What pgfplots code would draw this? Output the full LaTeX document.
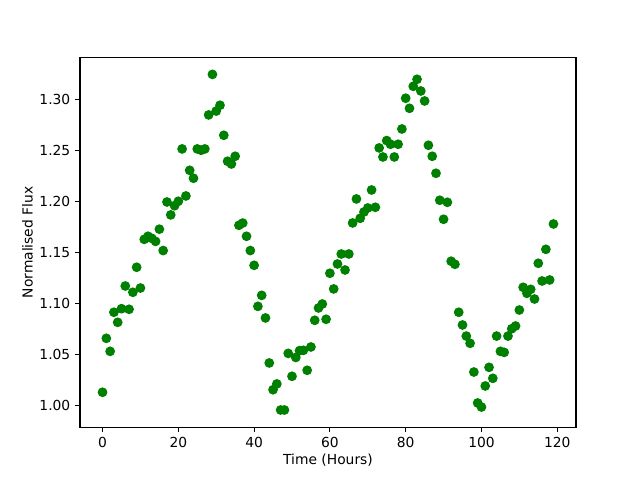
\documentclass[border=0pt]{standalone}
\usepackage{fontspec}
\setmainfont{DejaVu Sans}
\usepackage{pgfplots}
\pgfplotsset{compat=1.18}
\definecolor{mgreen}{HTML}{008000}
\begin{document}
\begin{tikzpicture}
\useasboundingbox (-0.8in,-0.528in) rectangle (5.6in,4.272in);
\begin{axis}[
  at={(0,0)}, anchor=south west,
  scale only axis,
  width=4.96in, height=3.696in,
  xmin=-5.95, xmax=124.95,
  ymin=0.9785, ymax=1.3415,
  xtick={0,20,40,60,80,100,120},
  ytick={1.00,1.05,1.10,1.15,1.20,1.25,1.30},
  yticklabel style={/pgf/number format/.cd, fixed, fixed zerofill, precision=2},
  /pgf/number format/assume math mode=true,
  tick align=outside,
  tick pos=left,
  major tick length=3.5pt,
  every tick/.style={black, line width=0.8pt},
  axis line style={line width=0.8pt},
  tick label style={font=\fontsize{10}{12}\selectfont},
  label style={font=\fontsize{10}{12}\selectfont},
  xlabel={Time (Hours)},
  ylabel={Normalised Flux},
  xlabel style={yshift=2pt},
  ylabel style={yshift=-2pt},
  scaled y ticks=false,
]
\addplot[only marks, mark=*, mark size=3pt, mgreen, mark options={draw=mgreen, fill=mgreen, line width=1pt}] coordinates {
(0,1.0128) (1,1.0658) (2,1.053) (3,1.0914) (4,1.0815) (5,1.0949) (6,1.1172) (7,1.0943) (8,1.111) (9,1.1356)
(10,1.1152) (11,1.163) (12,1.166) (13,1.164) (14,1.161) (15,1.173) (16,1.152) (17,1.1997) (18,1.187) (19,1.196)
(20,1.2004) (21,1.2518) (22,1.2056) (23,1.2308) (24,1.223) (25,1.2518) (26,1.2505) (27,1.2518) (28,1.2852) (29,1.325)
(30,1.289) (31,1.2947) (32,1.2652) (33,1.2397) (34,1.237) (35,1.2446) (36,1.1768) (37,1.179) (38,1.166) (39,1.152)
(40,1.1375) (41,1.0972) (42,1.108) (43,1.0858) (44,1.0416) (45,1.0153) (46,1.021) (47,0.9954) (48,0.9954) (49,1.051)
(50,1.0285) (51,1.047) (52,1.0537) (53,1.054) (54,1.0344) (55,1.0573) (56,1.0835) (57,1.0956) (58,1.0995) (59,1.0845)
(60,1.1297) (61,1.1143) (62,1.1388) (63,1.1486) (64,1.1329) (65,1.1486) (66,1.1791) (67,1.2027) (68,1.1837) (69,1.1899)
(70,1.1938) (71,1.2115) (72,1.1945) (73,1.2528) (74,1.2439) (75,1.26) (76,1.2564) (77,1.2439) (78,1.2564) (79,1.2714)
(80,1.3016) (81,1.2917) (82,1.3133) (83,1.3202) (84,1.3087) (85,1.2989) (86,1.2554) (87,1.2446) (88,1.2279) (89,1.2014)
(90,1.1827) (91,1.1994) (92,1.1415) (93,1.1385) (94,1.0914) (95,1.0789) (96,1.068) (97,1.0609) (98,1.0327) (99,1.0023)
(100,0.9983) (101,1.019) (102,1.0373) (103,1.0265) (104,1.068) (105,1.053) (106,1.052) (107,1.068) (108,1.0752) (109,1.0779)
(110,1.0936) (111,1.1159) (112,1.11) (113,1.1139) (114,1.1044) (115,1.1395) (116,1.1221) (117,1.1532) (118,1.1231) (119,1.1781)
};
\end{axis}
\end{tikzpicture}
\end{document}
